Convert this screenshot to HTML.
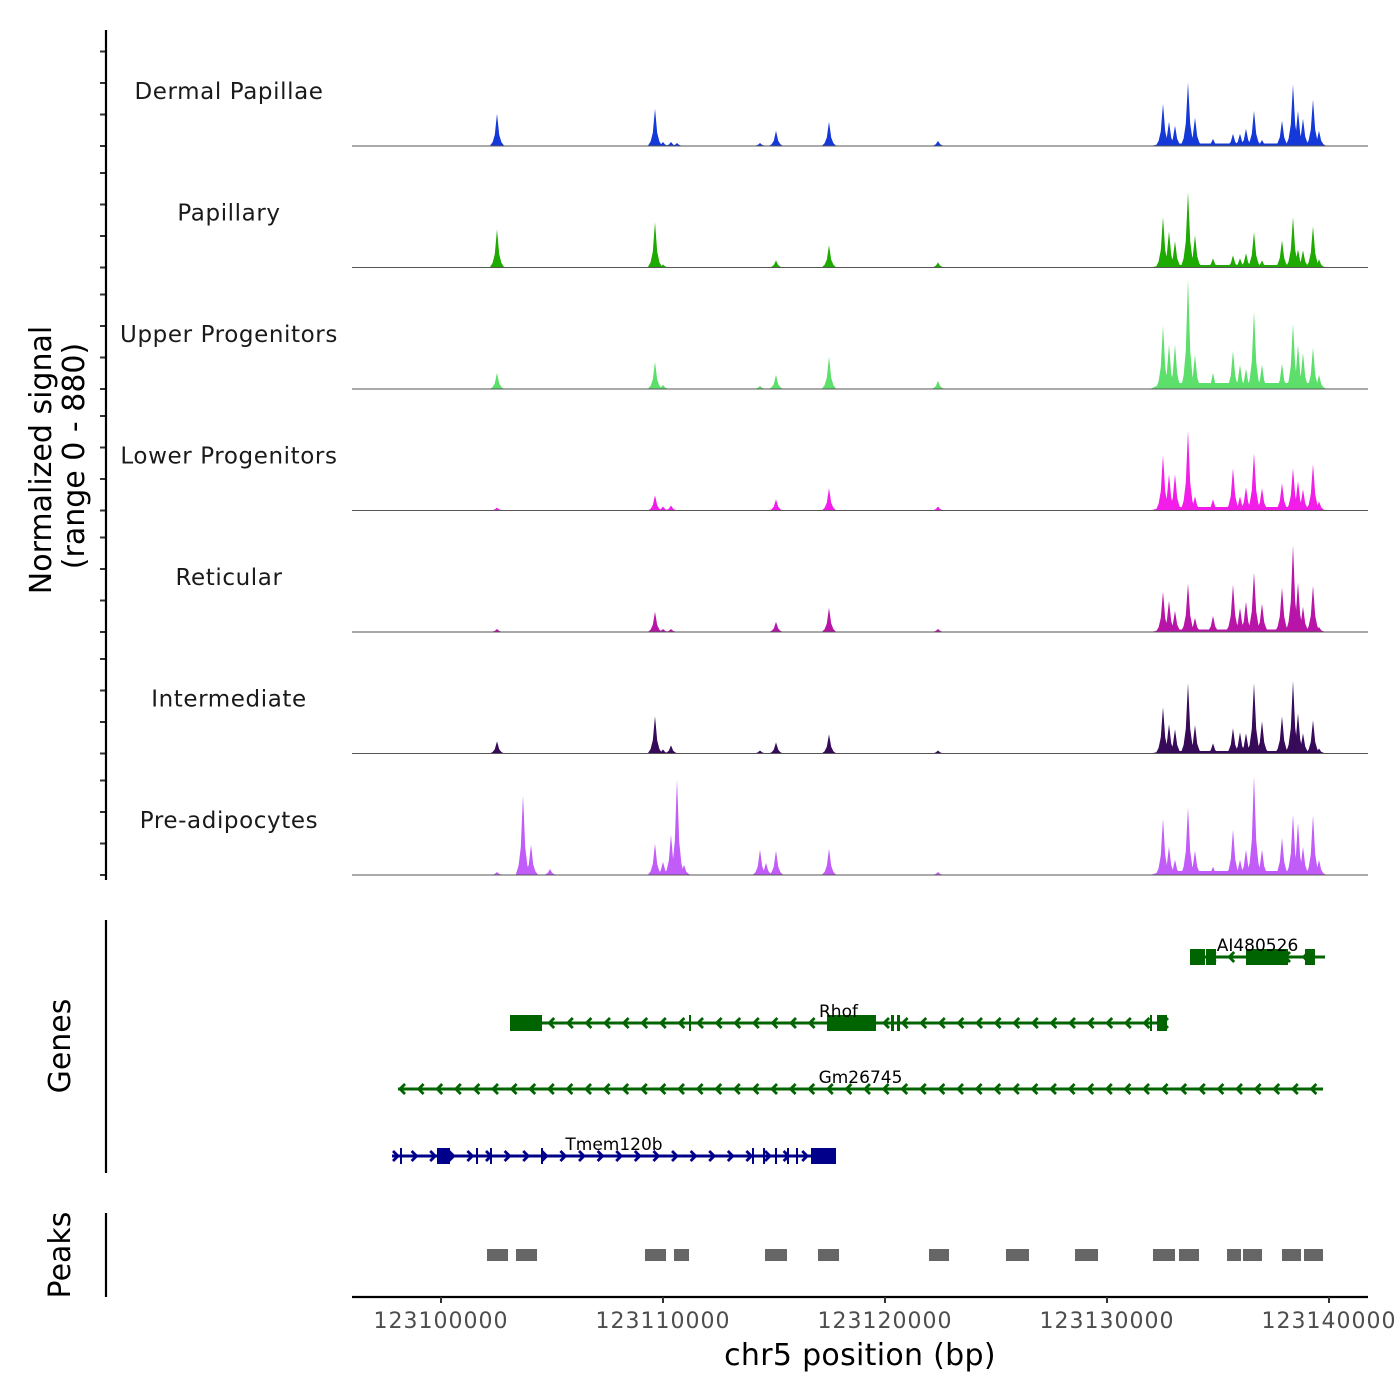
<!DOCTYPE html>
<html><head><meta charset="utf-8"><style>
html,body{margin:0;padding:0;background:#fff;}
svg{display:block;font-family:"DejaVu Sans","Liberation Sans",sans-serif;}
</style></head><body>
<svg id="chart" width="1400" height="1400" viewBox="0 0 1400 1400" xmlns="http://www.w3.org/2000/svg">
<rect width="1400" height="1400" fill="#fff"/>
</svg>
<script>
const trackNames = ["Dermal Papillae","Papillary","Upper Progenitors","Lower Progenitors","Reticular","Intermediate","Pre-adipocytes"];
const trackColors = ["#1539d8","#1eaa00","#5cdf6b","#f21de9","#b815a8","#380a5a","#c15cf9"];
const peakPositions = [123102523,123103694,123104054,123104910,123109640,123110000,123110360,123110631,123110946,123114369,123114640,123115090,123117477,123122387,
 123132523,123132793,123133063,123133649,123133964,123134775,123135676,123135991,123136261,123136622,123136982,123137883,123138378,123138604,123138829,123139279,123139550];
const sigDermal = [256,0,0,0,296,32,32,24,0,24,0,120,192,40, 336,192,160,504,224,56,96,96,136,280,48,200,488,280,216,368,120];
const sigPapillary = [304,0,0,0,360,24,0,0,0,0,0,56,176,40, 400,288,208,600,256,72,96,72,112,280,56,216,400,144,136,328,64];
const sigUpper = [128,0,0,0,216,32,0,0,0,24,0,112,256,64, 504,352,352,872,272,128,304,192,160,616,192,200,520,352,288,328,112];
const sigLower = [24,0,0,0,120,32,40,0,0,0,0,88,176,32, 440,288,288,632,112,88,336,112,184,456,176,216,336,232,168,368,72];
const sigReticular = [24,0,0,0,160,24,24,0,0,0,0,80,192,24, 320,248,168,384,112,128,376,192,240,472,224,352,688,392,200,368,40];
const sigIntermediate = [96,0,0,0,296,32,64,0,0,24,0,88,152,24, 368,232,192,560,224,80,200,168,160,560,256,296,576,320,160,264,40];
const sigPreadipo = [24,632,240,48,248,104,320,760,80,200,96,192,208,24, 448,224,120,536,192,64,360,120,200,784,200,296,480,416,224,472,120];
const clusterBackground = [20,20,48,28,20,20,32];
const clusterRange = [123131937,123139865];
const yTicks = [0,250,500,750];
const xTicks = [123100000,123110000,123120000,123130000,123140000];
const peakStarts = [123102072,123103378,123109189,123110495,123114595,123116982,123121982,123125450,123128559,123132072,123133243,123135405,123136126,123137883,123138874];
const peakEnds = [123103018,123104324,123110135,123111171,123115586,123117928,123122883,123126486,123129595,123133063,123134144,123136036,123136982,123138739,123139730];
const geneNames = ["AI480526","Rhof","Gm26745","Tmem120b"];
const geneStarts = [123133739,123103108,123098063,123097793];
const geneEnds = [123139820,123132703,123139730,123117793];
const geneStrands = [-1,-1,-1,1];
const geneExons = [
 [[123133739,123134414],[123134459,123134910],[123136261,123138153],[123138919,123139369]],
 [[123103108,123104550],[123111171,123111261],[123117387,123119595],[123120270,123120405],[123120541,123120676],[123131937,123132027],[123132252,123132703]],
 [],
 [[123098153,123098243],[123099820,123100405],[123101577,123101667],[123102207,123102297],[123104505,123104595],[123114009,123114099],[123114505,123114595],[123115045,123115135],[123115586,123115676],[123115991,123116081],[123116667,123117793]]
];
const signals = [sigDermal,sigPapillary,sigUpper,sigLower,sigReticular,sigIntermediate,sigPreadipo];

const NS = "http://www.w3.org/2000/svg";
const svg = document.getElementById("chart");
const X0 = 123100000, PX0 = 441, PXPERBP = 0.0222;
function xs(bp){ return PX0 + (bp - X0) * PXPERBP; }
const BASE0 = 146, TRACKH = 121.5, YPER = 31.5/250;
function ys(track, v){ return BASE0 + track*TRACKH - v*YPER; }
function mk(tag, attrs, parent){ const e=document.createElementNS(NS,tag); for(const k in attrs) e.setAttribute(k,attrs[k]); (parent||svg).appendChild(e); return e; }

for(let t=0;t<7;t++){
  const g = mk("g",{});
  
  
  const base = ys(t,0);
  const hb = clusterBackground[t];
  const bg = mk("polygon",{points:[
    xs(clusterRange[0])+","+base, xs(clusterRange[0]+600)+","+ys(t,hb), xs(clusterRange[1]-400)+","+ys(t,hb), xs(clusterRange[1])+","+base].join(" "), fill:trackColors[t]}, g);
  
  
  const vals = signals[t];
  for(let i=0;i<peakPositions.length;i++){
    const h = vals[i]; if(h<=0) continue;
    const c = peakPositions[i]; const hw = 330;
    const pts = [[c-hw,0],[c-hw*0.6,h*0.12],[c-hw*0.3,h*0.35],[c-hw*0.1,h*0.8],[c,h],[c+hw*0.1,h*0.8],[c+hw*0.3,h*0.35],[c+hw*0.6,h*0.12],[c+hw,0]]
      .map(p=>xs(p[0]).toFixed(1)+","+ys(t,p[1]).toFixed(1)).join(" ");
    const p = mk("polygon",{points:pts, fill:trackColors[t]}, g);
    
    
  }
  const bl = mk("line",{x1:352,x2:1368,y1:base,y2:base,stroke:"#555",'stroke-width':1}, g);
  
  
  const lab = mk("text",{x:229,y:base-47,'text-anchor':'middle','font-size':23,fill:'#1a1a1a','letter-spacing':'0.6'}, g);
  lab.textContent = trackNames[t];
  
  
  for(const v of yTicks){
    const tk = mk("line",{x1:100,x2:106,y1:ys(t,v),y2:ys(t,v),stroke:"#333",'stroke-width':2}, g);
    
    
  }
}
const yax = mk("line",{x1:106,x2:106,y1:30,y2:880,stroke:"#000",'stroke-width':2.2});


const yt = mk("text",{transform:"translate(51,460) rotate(-90)",'text-anchor':'middle','font-size':30,fill:'#000'});
yt.textContent = "Normalized signal";


const yt2 = mk("text",{transform:"translate(84,456) rotate(-90)",'text-anchor':'middle','font-size':30,fill:'#000'});
yt2.textContent = "(range 0 - 880)";



const geneRowY = [957,1023,1089,1156];
const gax = mk("line",{x1:106,x2:106,y1:920,y2:1173,stroke:"#000",'stroke-width':2.2});


const gt = mk("text",{transform:"translate(70,1046) rotate(-90)",'text-anchor':'middle','font-size':30,fill:'#000'});
gt.textContent = "Genes";


for(let i=0;i<geneNames.length;i++){
  const col = geneStrands[i]>0 ? "#00008b" : "#006400";
  const y = geneRowY[i];
  const g = mk("g",{});
  
  
  const x1 = xs(geneStarts[i]), x2 = xs(geneEnds[i]);
  mk("line",{x1:x1,x2:x2,y1:y,y2:y,stroke:col,'stroke-width':3}, g);
  for(let ax = x1+4; ax < x2-2; ax += 18.6){
    const d = geneStrands[i]>0 ? `M${ax-3},${y-5} L${ax+2},${y} L${ax-3},${y+5}` : `M${ax+3},${y-5} L${ax-2},${y} L${ax+3},${y+5}`;
    mk("path",{d:d,stroke:col,'stroke-width':2.8,fill:'none'}, g);
  }
  for(const ex of geneExons[i]){
    const a=xs(ex[0]), b=xs(ex[1]);
    const r = mk("rect",{x:a,y:y-8,width:Math.max(2,b-a),height:16,fill:col}, g);
    
    
  }
  const lab = mk("text",{x:(xs(geneStarts[i])+xs(geneEnds[i]))/2,y:y-6,'text-anchor':'middle','font-size':17,fill:'#000'}, g);
  lab.textContent = geneNames[i];
  
  
}

const pax = mk("line",{x1:106,x2:106,y1:1213,y2:1297,stroke:"#000",'stroke-width':2.2});


const pt = mk("text",{transform:"translate(70,1255) rotate(-90)",'text-anchor':'middle','font-size':30,fill:'#000'});
pt.textContent = "Peaks";


for(let i=0;i<peakStarts.length;i++){
  const a=xs(peakStarts[i]), b=xs(peakEnds[i]);
  const r = mk("rect",{x:a,y:1249,width:b-a,height:12,fill:'#666'});
  
  
}

const xax = mk("line",{x1:352,x2:1368,y1:1297,y2:1297,stroke:"#000",'stroke-width':2.2});


for(const v of xTicks){
  const tk = mk("line",{x1:xs(v),x2:xs(v),y1:1297,y2:1303,stroke:"#333",'stroke-width':2});
  
  
  const tl = mk("text",{x:xs(v),y:1328,'text-anchor':'middle','font-size':22,fill:'#4d4d4d','letter-spacing':'1'});
  tl.textContent = String(v);
  
  
}
const xt = mk("text",{x:860,y:1365,'text-anchor':'middle','font-size':30,fill:'#000','letter-spacing':'0.3'});
xt.textContent = "chr5 position (bp)";


</script>
</body></html>
